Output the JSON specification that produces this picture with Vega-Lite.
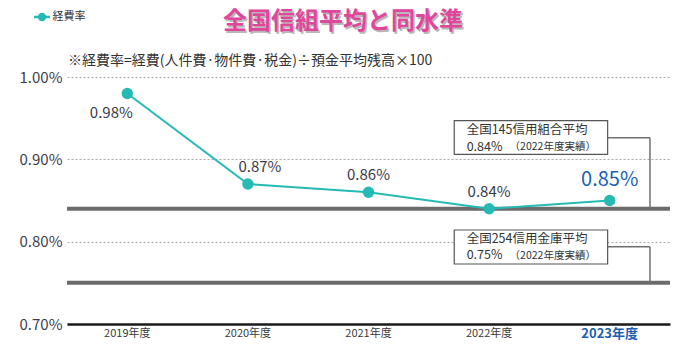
{
  "$schema": "https://vega.github.io/schema/vega-lite/v6.json",
  "width": 603,
  "height": 247,
  "autosize": "none",
  "padding": {"left": 67, "top": 77, "right": 15, "bottom": 32},
  "background": "#ffffff",
  "config": {
    "view": {"stroke": null},
    "font": "Noto Sans CJK JP",
    "text": {"font": "Noto Sans CJK JP"}
  },
  "datasets": {
    "rates": [
      {"year": "2019年度", "rate": 0.98},
      {"year": "2020年度", "rate": 0.87},
      {"year": "2021年度", "rate": 0.86},
      {"year": "2022年度", "rate": 0.84},
      {"year": "2023年度", "rate": 0.85}
    ],
    "refs": [
      {"name": "全国145信用組合平均", "value": 0.84},
      {"name": "全国254信用金庫平均", "value": 0.75}
    ]
  },
  "resolve": {"scale": {"x": "independent"}, "axis": {"x": "independent"}},
  "layer": [
    {
      "data": {"name": "rates"},
      "encoding": {
        "x": {
          "field": "year", "type": "ordinal", "sort": ["2019年度", "2020年度", "2021年度", "2022年度", "2023年度"],
          "scale": {"type": "band", "paddingInner": 0, "paddingOuter": 0, "domain": ["2019年度", "2020年度", "2021年度", "2022年度", "2023年度"]},
          "axis": {
            "title": null, "orient": "bottom", "ticks": false,
            "domain": true, "domainColor": "#1a1a1a", "domainWidth": 2.5,
            "labelPadding": 3, "labelAngle": 0,
            "labelFont": "Noto Sans CJK JP",
            "labelFontSize": {"condition": {"test": "datum.value == '2023年度'", "value": 13}, "value": 11},
            "labelFontWeight": {"condition": {"test": "datum.value == '2023年度'", "value": "bold"}, "value": "normal"},
            "labelColor": {"condition": {"test": "datum.value == '2023年度'", "value": "#1a5fb4"}, "value": "#3a3a3a"}
          }
        },
        "y": {
          "field": "rate", "type": "quantitative",
          "scale": {"domain": [0.7, 1.0], "nice": false, "zero": false},
          "axis": {
            "title": null, "values": [0.7, 0.8, 0.9, 1.0],
            "domain": false, "ticks": false, "labelPadding": 5,
            "labelExpr": "format(datum.value, '.2f') + '%'",
            "labelFontSize": 15, "labelColor": "#3d3d4f",
            "labelFont": "Noto Sans CJK JP",
            "grid": true, "gridColor": "#a8a8a8", "gridDash": [2, 2], "gridWidth": 1
          }
        }
      },
      "layer": [
        {
          "data": {"name": "refs"},
          "mark": {"type": "rule", "stroke": "#6b6b6b", "strokeWidth": 4},
          "encoding": {
            "x": null,
            "y": {"field": "value", "type": "quantitative"}
          }
        },
        {
          "mark": {"type": "line", "stroke": "#26bab5", "strokeWidth": 2}
        },
        {
          "mark": {"type": "point", "filled": true, "fill": "#26bab5", "opacity": 1, "size": 130, "shape": "circle"}
        },
        {
          "transform": [
            {"filter": "datum.year == '2019年度'"},
            {"calculate": "format(datum.rate, '.2f') + '%'", "as": "label"}
          ],
          "mark": {"type": "text", "fontSize": 15, "fill": "#3a3a4a", "dx": -16, "dy": 20},
          "encoding": {"text": {"field": "label"}}
        },
        {
          "transform": [
            {"filter": "datum.year == '2020年度'"},
            {"calculate": "format(datum.rate, '.2f') + '%'", "as": "label"}
          ],
          "mark": {"type": "text", "fontSize": 15, "fill": "#3a3a4a", "dx": 12, "dy": -17},
          "encoding": {"text": {"field": "label"}}
        },
        {
          "transform": [
            {"filter": "datum.year == '2021年度' || datum.year == '2022年度'"},
            {"calculate": "format(datum.rate, '.2f') + '%'", "as": "label"}
          ],
          "mark": {"type": "text", "fontSize": 15, "fill": "#3a3a4a", "dx": 0, "dy": -17},
          "encoding": {"text": {"field": "label"}}
        },
        {
          "transform": [
            {"filter": "datum.year == '2023年度'"},
            {"calculate": "format(datum.rate, '.2f') + '%'", "as": "label"}
          ],
          "mark": {"type": "text", "fontSize": 20, "fill": "#1a5fb4", "dx": 0, "dy": -21},
          "encoding": {"text": {"field": "label"}}
        }
      ]
    },
    {
      "data": {"values": [{}]},
      "layer": [
        {
          "mark": {"type": "rule", "stroke": "#707070", "strokeWidth": 1.5},
          "encoding": {
            "x": {"datum": 4.483, "type": "quantitative", "scale": {"domain": [0, 5], "nice": false, "zero": false}, "axis": null},
            "x2": {"datum": 4.834},
            "y": {"datum": 0.9263, "type": "quantitative"}
          }
        },
        {
          "mark": {"type": "rule", "stroke": "#707070", "strokeWidth": 1.5},
          "encoding": {
            "x": {"datum": 4.834, "type": "quantitative"},
            "y": {"datum": 0.9263, "type": "quantitative"},
            "y2": {"datum": 0.84}
          }
        },
        {
          "mark": {"type": "rule", "stroke": "#707070", "strokeWidth": 1.5},
          "encoding": {
            "x": {"datum": 4.483, "type": "quantitative"},
            "x2": {"datum": 4.834},
            "y": {"datum": 0.7939, "type": "quantitative"}
          }
        },
        {
          "mark": {"type": "rule", "stroke": "#707070", "strokeWidth": 1.5},
          "encoding": {
            "x": {"datum": 4.834, "type": "quantitative"},
            "y": {"datum": 0.7939, "type": "quantitative"},
            "y2": {"datum": 0.75}
          }
        },
        {
          "mark": {"type": "rect", "fill": "#ffffff", "stroke": "#555555", "strokeWidth": 1.2},
          "encoding": {
            "x": {"datum": 3.211, "type": "quantitative"},
            "x2": {"datum": 4.483},
            "y": {"datum": 0.9469, "type": "quantitative"},
            "y2": {"datum": 0.9061}
          }
        },
        {
          "mark": {"type": "rect", "fill": "#ffffff", "stroke": "#555555", "strokeWidth": 1.2},
          "encoding": {
            "x": {"datum": 3.211, "type": "quantitative"},
            "x2": {"datum": 4.483},
            "y": {"datum": 0.8142, "type": "quantitative"},
            "y2": {"datum": 0.7729}
          }
        },
        {
          "mark": {"type": "text", "align": "left", "baseline": "middle", "fontSize": 12.5, "fill": "#333333"},
          "encoding": {
            "x": {"datum": 3.314, "type": "quantitative"},
            "y": {"datum": 0.9355, "type": "quantitative"},
            "text": {"value": "全国145信用組合平均"}
          }
        },
        {
          "mark": {"type": "text", "align": "left", "baseline": "middle", "fontSize": 12.5, "fill": "#333333"},
          "encoding": {
            "x": {"datum": 3.314, "type": "quantitative"},
            "y": {"datum": 0.9155, "type": "quantitative"},
            "text": {"value": "0.84%"}
          }
        },
        {
          "mark": {"type": "text", "align": "left", "baseline": "middle", "fontSize": 10.5, "fill": "#333333"},
          "encoding": {
            "x": {"datum": 3.67, "type": "quantitative"},
            "y": {"datum": 0.9145, "type": "quantitative"},
            "text": {"value": "（2022年度実績）"}
          }
        },
        {
          "mark": {"type": "text", "align": "left", "baseline": "middle", "fontSize": 12.5, "fill": "#333333"},
          "encoding": {
            "x": {"datum": 3.314, "type": "quantitative"},
            "y": {"datum": 0.8035, "type": "quantitative"},
            "text": {"value": "全国254信用金庫平均"}
          }
        },
        {
          "mark": {"type": "text", "align": "left", "baseline": "middle", "fontSize": 12.5, "fill": "#333333"},
          "encoding": {
            "x": {"datum": 3.314, "type": "quantitative"},
            "y": {"datum": 0.7835, "type": "quantitative"},
            "text": {"value": "0.75%"}
          }
        },
        {
          "mark": {"type": "text", "align": "left", "baseline": "middle", "fontSize": 10.5, "fill": "#333333"},
          "encoding": {
            "x": {"datum": 3.67, "type": "quantitative"},
            "y": {"datum": 0.7825, "type": "quantitative"},
            "text": {"value": "（2022年度実績）"}
          }
        },
        {
          "mark": {"type": "text", "align": "left", "baseline": "middle", "fontSize": 14, "fill": "#333333"},
          "encoding": {
            "x": {"datum": 0.008, "type": "quantitative"},
            "y": {"datum": 1.0194, "type": "quantitative"},
            "text": {"value": "※経費率=経費(人件費·物件費·税金)÷預金平均残高×100"}
          }
        },
        {
          "mark": {"type": "text", "align": "center", "baseline": "middle", "fontSize": 24, "fontWeight": "bold", "fill": "#b8b8b8", "dx": 1.5, "dy": 1.5},
          "encoding": {
            "x": {"datum": 2.289, "type": "quantitative"},
            "y": {"datum": 1.0668, "type": "quantitative"},
            "text": {"value": "全国信組平均と同水準"}
          }
        },
        {
          "mark": {"type": "text", "align": "center", "baseline": "middle", "fontSize": 24, "fontWeight": "bold", "fill": "#e0469c"},
          "encoding": {
            "x": {"datum": 2.289, "type": "quantitative"},
            "y": {"datum": 1.0668, "type": "quantitative"},
            "text": {"value": "全国信組平均と同水準"}
          }
        },
        {
          "mark": {"type": "rule", "stroke": "#26bab5", "strokeWidth": 2.5},
          "encoding": {
            "x": {"datum": -0.274, "type": "quantitative"},
            "x2": {"datum": -0.141},
            "y": {"datum": 1.0729, "type": "quantitative"}
          }
        },
        {
          "mark": {"type": "point", "filled": true, "fill": "#26bab5", "opacity": 1, "size": 70, "shape": "circle"},
          "encoding": {
            "x": {"datum": -0.207, "type": "quantitative"},
            "y": {"datum": 1.0729, "type": "quantitative"}
          }
        },
        {
          "mark": {"type": "text", "align": "left", "baseline": "middle", "fontSize": 11, "fill": "#333333"},
          "encoding": {
            "x": {"datum": -0.12, "type": "quantitative"},
            "y": {"datum": 1.0729, "type": "quantitative"},
            "text": {"value": "経費率"}
          }
        }
      ]
    }
  ]
}
